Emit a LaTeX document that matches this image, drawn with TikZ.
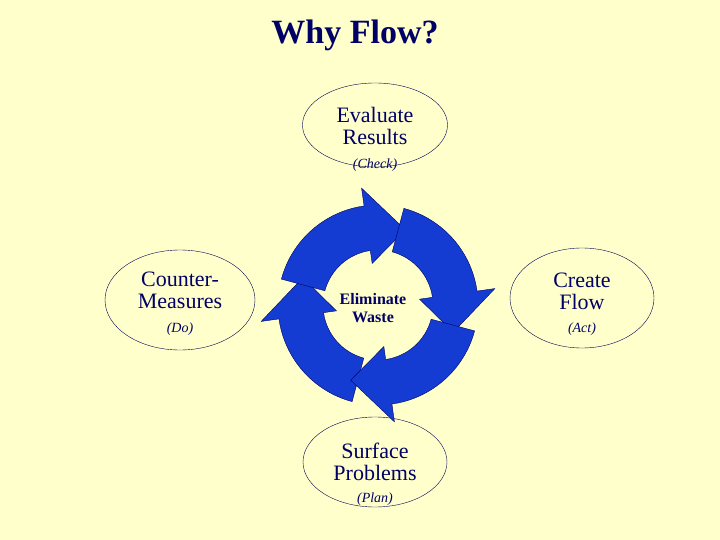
\documentclass[tikz,border=0pt]{standalone}
\usepackage{fontspec}
\setmainfont{Liberation Serif}
\usetikzlibrary{shapes.geometric,calc}
\definecolor{bg}{RGB}{255,255,204}
\definecolor{navy}{RGB}{0,0,102}
\definecolor{cyc}{RGB}{20,60,210}
\tikzset{
  oval/.style={ellipse,draw=navy!80!black,thin,minimum width=#1},
  big/.style={font=\fontsize{22}{25}\selectfont,text=navy,align=center},
  small/.style={font=\itshape\fontsize{14}{16}\selectfont,text=navy},
  seg/.style={fill=cyc,draw=navy,line width=0.4pt}
}
\begin{document}
\begin{tikzpicture}[x=1pt,y=-1pt]
\fill[bg] (0,0) rectangle (720,540);
\useasboundingbox (0,0) rectangle (720,540);
\node[font=\bfseries\fontsize{34}{38}\selectfont,text=navy] (title) at (355,35) {Why Flow?};
\node[oval=145pt,minimum height=84pt] (top) at (375,125) {};
\node[oval=150pt,minimum height=100pt] (left) at (180,300) {};
\node[oval=144pt,minimum height=100pt] (right) at (582,298) {};
\node[oval=144pt,minimum height=90pt] (bot) at (375,462) {};
\node[big] (t1) at (375,126) {Evaluate\\[-3pt]Results};
\node[small] (t2) at (375,165) {(Check)};
\node[big] (l1) at (180,290) {Counter-\\[-3pt]Measures};
\node[small] (l2) at (180,329) {(Do)};
\node[big] (r1) at (582,291) {Create\\[-3pt]Flow};
\node[small] (r2) at (582,329) {(Act)};
\node[big] (b1) at (375,462) {Surface\\[-3pt]Problems};
\node[small] (b2) at (375,499) {(Plan)};
\coordinate (C) at (378,305);
\foreach \t in {200,290,20,110}{
  \fill[seg] ($(C)+(\t-95:100)$) arc[start angle=\t-95,end angle=\t-28,radius=100]
    -- ($(C)+(\t-28:118)$) -- ($(C)+(\t:80)$) -- ($(C)+(\t-28:42)$) -- ($(C)+(\t-28:55)$)
    arc[start angle=\t-28,end angle=\t-95,radius=55] -- cycle;
}
\node[font=\bfseries\fontsize{16}{18}\selectfont,text=navy,align=center] (c) at (373,308) {Eliminate\\Waste};
\end{tikzpicture}
\end{document}
